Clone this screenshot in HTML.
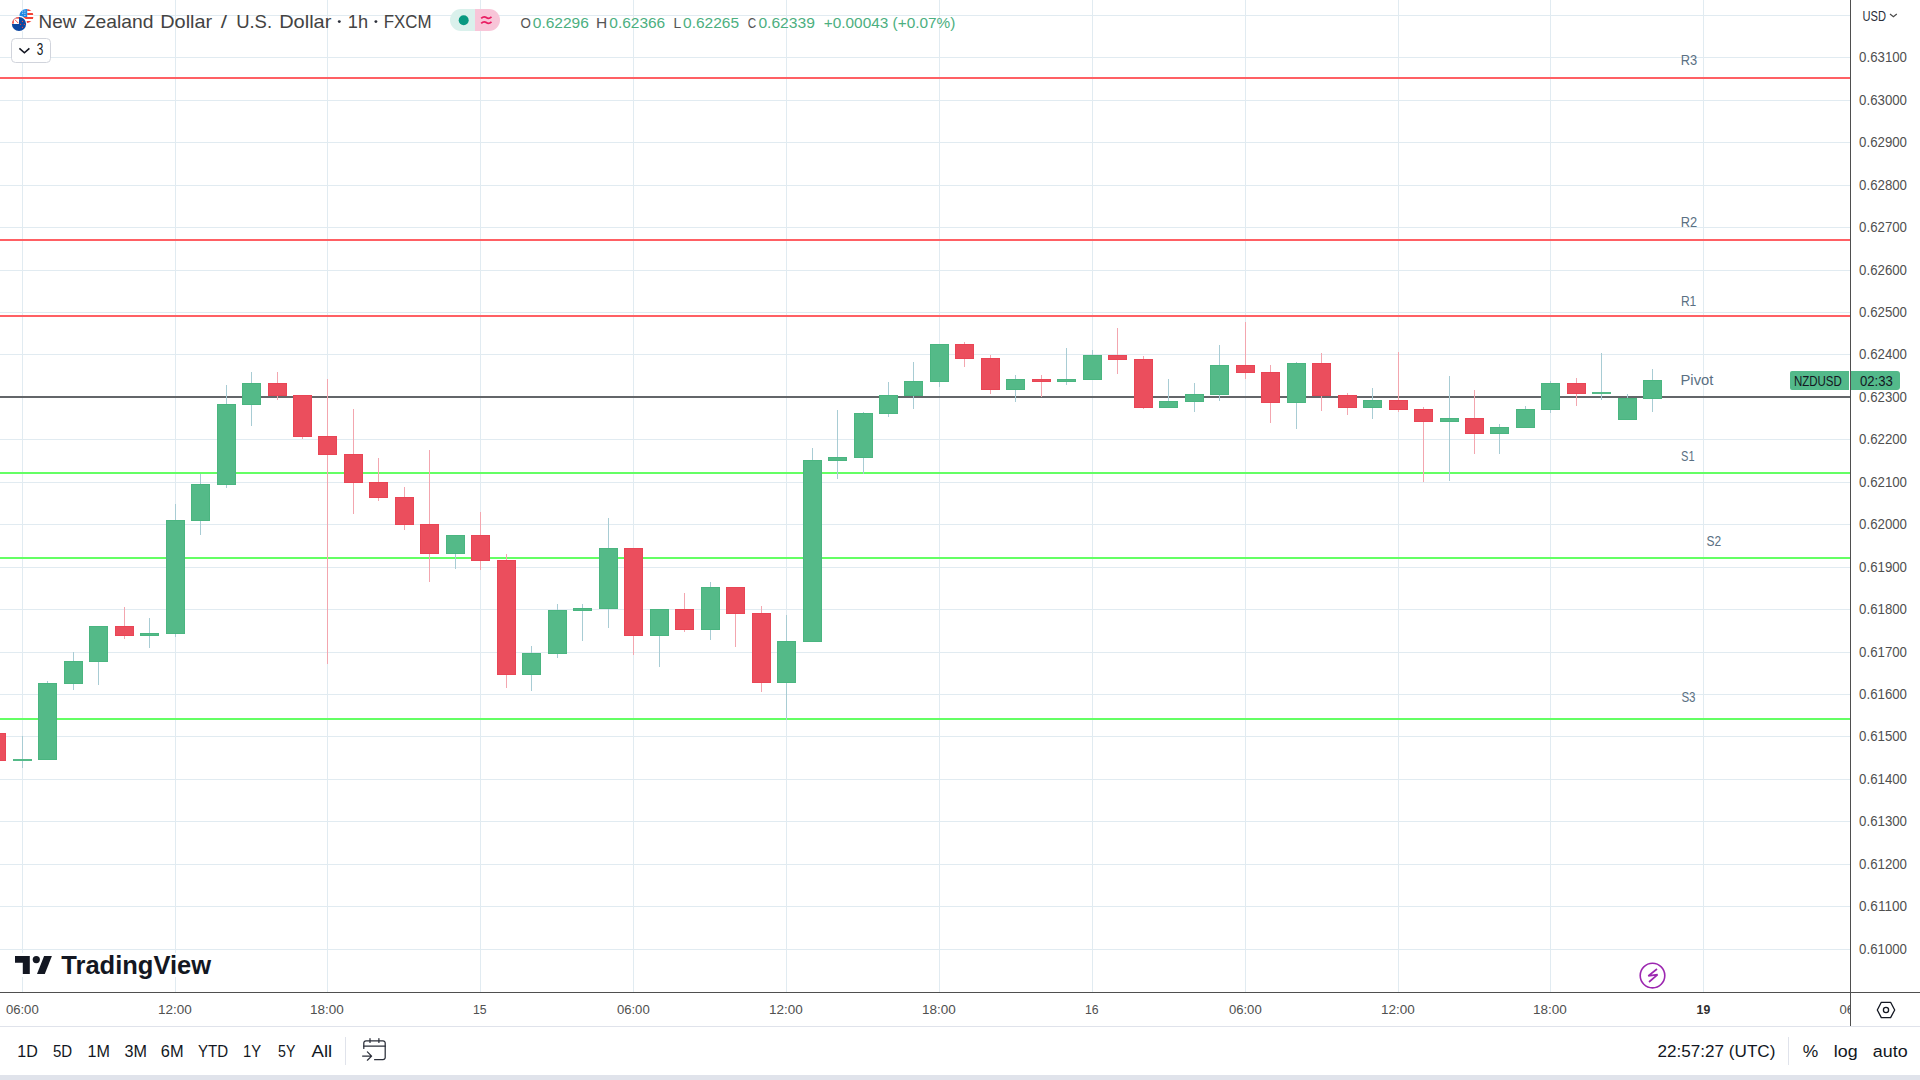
<!DOCTYPE html><html><head><meta charset="utf-8"><title>NZDUSD 1h chart</title>
<style>html,body{margin:0;padding:0;background:#fff;}body{width:1920px;height:1080px;position:relative;overflow:hidden;font-family:'Liberation Sans', Arial, sans-serif;}svg{position:absolute;left:0;top:0;}text{font-family:'Liberation Sans', Arial, sans-serif;white-space:pre;}</style></head><body>
<svg width="1920" height="1080" viewBox="0 0 1920 1080">
<rect x="0" y="0" width="1920" height="1080" fill="#ffffff"/>
<g shape-rendering="crispEdges" fill="#e1ebf1">
<rect x="0" y="15" width="1850" height="1"/>
<rect x="0" y="57" width="1850" height="1"/>
<rect x="0" y="100" width="1850" height="1"/>
<rect x="0" y="142" width="1850" height="1"/>
<rect x="0" y="185" width="1850" height="1"/>
<rect x="0" y="227" width="1850" height="1"/>
<rect x="0" y="270" width="1850" height="1"/>
<rect x="0" y="312" width="1850" height="1"/>
<rect x="0" y="354" width="1850" height="1"/>
<rect x="0" y="397" width="1850" height="1"/>
<rect x="0" y="439" width="1850" height="1"/>
<rect x="0" y="482" width="1850" height="1"/>
<rect x="0" y="524" width="1850" height="1"/>
<rect x="0" y="567" width="1850" height="1"/>
<rect x="0" y="609" width="1850" height="1"/>
<rect x="0" y="652" width="1850" height="1"/>
<rect x="0" y="694" width="1850" height="1"/>
<rect x="0" y="736" width="1850" height="1"/>
<rect x="0" y="779" width="1850" height="1"/>
<rect x="0" y="821" width="1850" height="1"/>
<rect x="0" y="864" width="1850" height="1"/>
<rect x="0" y="906" width="1850" height="1"/>
<rect x="0" y="949" width="1850" height="1"/>
<rect x="22" y="0" width="1" height="992"/>
<rect x="175" y="0" width="1" height="992"/>
<rect x="327" y="0" width="1" height="992"/>
<rect x="480" y="0" width="1" height="992"/>
<rect x="633" y="0" width="1" height="992"/>
<rect x="786" y="0" width="1" height="992"/>
<rect x="939" y="0" width="1" height="992"/>
<rect x="1092" y="0" width="1" height="992"/>
<rect x="1245" y="0" width="1" height="992"/>
<rect x="1398" y="0" width="1" height="992"/>
<rect x="1550" y="0" width="1" height="992"/>
<rect x="1703" y="0" width="1" height="992"/>
</g>
<g shape-rendering="crispEdges">
<rect x="0" y="77" width="1850" height="2" fill="#ff6064"/>
<rect x="0" y="239" width="1850" height="2" fill="#ff6064"/>
<rect x="0" y="315" width="1850" height="2" fill="#ff6064"/>
<rect x="0" y="396" width="1850" height="2" fill="#636669"/>
<rect x="0" y="472" width="1850" height="2" fill="#64ff64"/>
<rect x="0" y="557" width="1850" height="2" fill="#64ff64"/>
<rect x="0" y="718" width="1850" height="2" fill="#64ff64"/>
</g>
<g shape-rendering="crispEdges">
<rect x="-13" y="733" width="19" height="28" fill="#e94555"/>
<rect x="-12" y="734" width="17" height="26" fill="#eb4e5d"/>
<rect x="22" y="736" width="1" height="23" fill="#a8ccd4"/>
<rect x="22" y="761" width="1" height="7" fill="#a8ccd4"/>
<rect x="13" y="759" width="19" height="2" fill="#54ba88"/>
<rect x="47" y="681" width="1" height="2" fill="#a8ccd4"/>
<rect x="38" y="683" width="19" height="77" fill="#4ab580"/>
<rect x="39" y="684" width="17" height="75" fill="#54ba88"/>
<rect x="73" y="652" width="1" height="9" fill="#a8ccd4"/>
<rect x="73" y="684" width="1" height="6" fill="#a8ccd4"/>
<rect x="64" y="661" width="19" height="23" fill="#4ab580"/>
<rect x="65" y="662" width="17" height="21" fill="#54ba88"/>
<rect x="98" y="662" width="1" height="23" fill="#a8ccd4"/>
<rect x="89" y="626" width="19" height="36" fill="#4ab580"/>
<rect x="90" y="627" width="17" height="34" fill="#54ba88"/>
<rect x="124" y="607" width="1" height="19" fill="#f3a6af"/>
<rect x="124" y="636" width="1" height="3" fill="#f3a6af"/>
<rect x="115" y="626" width="19" height="10" fill="#e94555"/>
<rect x="116" y="627" width="17" height="8" fill="#eb4e5d"/>
<rect x="149" y="618" width="1" height="15" fill="#a8ccd4"/>
<rect x="149" y="636" width="1" height="12" fill="#a8ccd4"/>
<rect x="140" y="633" width="19" height="3" fill="#4ab580"/>
<rect x="141" y="634" width="17" height="1" fill="#54ba88"/>
<rect x="175" y="504" width="1" height="16" fill="#a8ccd4"/>
<rect x="175" y="634" width="1" height="3" fill="#a8ccd4"/>
<rect x="166" y="520" width="19" height="114" fill="#4ab580"/>
<rect x="167" y="521" width="17" height="112" fill="#54ba88"/>
<rect x="200" y="474" width="1" height="10" fill="#a8ccd4"/>
<rect x="200" y="521" width="1" height="14" fill="#a8ccd4"/>
<rect x="191" y="484" width="19" height="37" fill="#4ab580"/>
<rect x="192" y="485" width="17" height="35" fill="#54ba88"/>
<rect x="226" y="385" width="1" height="19" fill="#a8ccd4"/>
<rect x="226" y="485" width="1" height="3" fill="#a8ccd4"/>
<rect x="217" y="404" width="19" height="81" fill="#4ab580"/>
<rect x="218" y="405" width="17" height="79" fill="#54ba88"/>
<rect x="251" y="372" width="1" height="11" fill="#a8ccd4"/>
<rect x="251" y="405" width="1" height="21" fill="#a8ccd4"/>
<rect x="242" y="383" width="19" height="22" fill="#4ab580"/>
<rect x="243" y="384" width="17" height="20" fill="#54ba88"/>
<rect x="277" y="372" width="1" height="11" fill="#f3a6af"/>
<rect x="277" y="396" width="1" height="4" fill="#f3a6af"/>
<rect x="268" y="383" width="19" height="13" fill="#e94555"/>
<rect x="269" y="384" width="17" height="11" fill="#eb4e5d"/>
<rect x="302" y="437" width="1" height="2" fill="#f3a6af"/>
<rect x="293" y="395" width="19" height="42" fill="#e94555"/>
<rect x="294" y="396" width="17" height="40" fill="#eb4e5d"/>
<rect x="327" y="379" width="1" height="57" fill="#f3a6af"/>
<rect x="327" y="455" width="1" height="209" fill="#f3a6af"/>
<rect x="318" y="436" width="19" height="19" fill="#e94555"/>
<rect x="319" y="437" width="17" height="17" fill="#eb4e5d"/>
<rect x="353" y="409" width="1" height="45" fill="#f3a6af"/>
<rect x="353" y="483" width="1" height="31" fill="#f3a6af"/>
<rect x="344" y="454" width="19" height="29" fill="#e94555"/>
<rect x="345" y="455" width="17" height="27" fill="#eb4e5d"/>
<rect x="378" y="458" width="1" height="24" fill="#f3a6af"/>
<rect x="378" y="498" width="1" height="3" fill="#f3a6af"/>
<rect x="369" y="482" width="19" height="16" fill="#e94555"/>
<rect x="370" y="483" width="17" height="14" fill="#eb4e5d"/>
<rect x="404" y="487" width="1" height="10" fill="#f3a6af"/>
<rect x="404" y="525" width="1" height="5" fill="#f3a6af"/>
<rect x="395" y="497" width="19" height="28" fill="#e94555"/>
<rect x="396" y="498" width="17" height="26" fill="#eb4e5d"/>
<rect x="429" y="450" width="1" height="74" fill="#f3a6af"/>
<rect x="429" y="554" width="1" height="28" fill="#f3a6af"/>
<rect x="420" y="524" width="19" height="30" fill="#e94555"/>
<rect x="421" y="525" width="17" height="28" fill="#eb4e5d"/>
<rect x="455" y="554" width="1" height="15" fill="#a8ccd4"/>
<rect x="446" y="535" width="19" height="19" fill="#4ab580"/>
<rect x="447" y="536" width="17" height="17" fill="#54ba88"/>
<rect x="480" y="512" width="1" height="23" fill="#f3a6af"/>
<rect x="480" y="561" width="1" height="9" fill="#f3a6af"/>
<rect x="471" y="535" width="19" height="26" fill="#e94555"/>
<rect x="472" y="536" width="17" height="24" fill="#eb4e5d"/>
<rect x="506" y="554" width="1" height="6" fill="#f3a6af"/>
<rect x="506" y="675" width="1" height="13" fill="#f3a6af"/>
<rect x="497" y="560" width="19" height="115" fill="#e94555"/>
<rect x="498" y="561" width="17" height="113" fill="#eb4e5d"/>
<rect x="531" y="646" width="1" height="7" fill="#a8ccd4"/>
<rect x="531" y="675" width="1" height="16" fill="#a8ccd4"/>
<rect x="522" y="653" width="19" height="22" fill="#4ab580"/>
<rect x="523" y="654" width="17" height="20" fill="#54ba88"/>
<rect x="557" y="604" width="1" height="6" fill="#a8ccd4"/>
<rect x="557" y="654" width="1" height="4" fill="#a8ccd4"/>
<rect x="548" y="610" width="19" height="44" fill="#4ab580"/>
<rect x="549" y="611" width="17" height="42" fill="#54ba88"/>
<rect x="582" y="604" width="1" height="4" fill="#a8ccd4"/>
<rect x="582" y="611" width="1" height="30" fill="#a8ccd4"/>
<rect x="573" y="608" width="19" height="3" fill="#4ab580"/>
<rect x="574" y="609" width="17" height="1" fill="#54ba88"/>
<rect x="608" y="518" width="1" height="30" fill="#a8ccd4"/>
<rect x="608" y="609" width="1" height="19" fill="#a8ccd4"/>
<rect x="599" y="548" width="19" height="61" fill="#4ab580"/>
<rect x="600" y="549" width="17" height="59" fill="#54ba88"/>
<rect x="633" y="636" width="1" height="19" fill="#f3a6af"/>
<rect x="624" y="548" width="19" height="88" fill="#e94555"/>
<rect x="625" y="549" width="17" height="86" fill="#eb4e5d"/>
<rect x="659" y="636" width="1" height="31" fill="#a8ccd4"/>
<rect x="650" y="609" width="19" height="27" fill="#4ab580"/>
<rect x="651" y="610" width="17" height="25" fill="#54ba88"/>
<rect x="684" y="593" width="1" height="16" fill="#f3a6af"/>
<rect x="684" y="630" width="1" height="2" fill="#f3a6af"/>
<rect x="675" y="609" width="19" height="21" fill="#e94555"/>
<rect x="676" y="610" width="17" height="19" fill="#eb4e5d"/>
<rect x="710" y="582" width="1" height="5" fill="#a8ccd4"/>
<rect x="710" y="630" width="1" height="10" fill="#a8ccd4"/>
<rect x="701" y="587" width="19" height="43" fill="#4ab580"/>
<rect x="702" y="588" width="17" height="41" fill="#54ba88"/>
<rect x="735" y="614" width="1" height="33" fill="#f3a6af"/>
<rect x="726" y="587" width="19" height="27" fill="#e94555"/>
<rect x="727" y="588" width="17" height="25" fill="#eb4e5d"/>
<rect x="761" y="606" width="1" height="7" fill="#f3a6af"/>
<rect x="761" y="683" width="1" height="9" fill="#f3a6af"/>
<rect x="752" y="613" width="19" height="70" fill="#e94555"/>
<rect x="753" y="614" width="17" height="68" fill="#eb4e5d"/>
<rect x="786" y="615" width="1" height="26" fill="#a8ccd4"/>
<rect x="786" y="683" width="1" height="37" fill="#a8ccd4"/>
<rect x="777" y="641" width="19" height="42" fill="#4ab580"/>
<rect x="778" y="642" width="17" height="40" fill="#54ba88"/>
<rect x="812" y="448" width="1" height="12" fill="#a8ccd4"/>
<rect x="803" y="460" width="19" height="182" fill="#4ab580"/>
<rect x="804" y="461" width="17" height="180" fill="#54ba88"/>
<rect x="837" y="410" width="1" height="47" fill="#a8ccd4"/>
<rect x="837" y="461" width="1" height="18" fill="#a8ccd4"/>
<rect x="828" y="457" width="19" height="4" fill="#4ab580"/>
<rect x="829" y="458" width="17" height="2" fill="#54ba88"/>
<rect x="863" y="412" width="1" height="1" fill="#a8ccd4"/>
<rect x="863" y="458" width="1" height="16" fill="#a8ccd4"/>
<rect x="854" y="413" width="19" height="45" fill="#4ab580"/>
<rect x="855" y="414" width="17" height="43" fill="#54ba88"/>
<rect x="888" y="382" width="1" height="13" fill="#a8ccd4"/>
<rect x="888" y="414" width="1" height="3" fill="#a8ccd4"/>
<rect x="879" y="395" width="19" height="19" fill="#4ab580"/>
<rect x="880" y="396" width="17" height="17" fill="#54ba88"/>
<rect x="913" y="362" width="1" height="19" fill="#a8ccd4"/>
<rect x="913" y="396" width="1" height="13" fill="#a8ccd4"/>
<rect x="904" y="381" width="19" height="15" fill="#4ab580"/>
<rect x="905" y="382" width="17" height="13" fill="#54ba88"/>
<rect x="939" y="382" width="1" height="5" fill="#a8ccd4"/>
<rect x="930" y="344" width="19" height="38" fill="#4ab580"/>
<rect x="931" y="345" width="17" height="36" fill="#54ba88"/>
<rect x="964" y="342" width="1" height="2" fill="#f3a6af"/>
<rect x="964" y="359" width="1" height="8" fill="#f3a6af"/>
<rect x="955" y="344" width="19" height="15" fill="#e94555"/>
<rect x="956" y="345" width="17" height="13" fill="#eb4e5d"/>
<rect x="990" y="355" width="1" height="3" fill="#f3a6af"/>
<rect x="990" y="390" width="1" height="4" fill="#f3a6af"/>
<rect x="981" y="358" width="19" height="32" fill="#e94555"/>
<rect x="982" y="359" width="17" height="30" fill="#eb4e5d"/>
<rect x="1015" y="375" width="1" height="4" fill="#a8ccd4"/>
<rect x="1015" y="390" width="1" height="12" fill="#a8ccd4"/>
<rect x="1006" y="379" width="19" height="11" fill="#4ab580"/>
<rect x="1007" y="380" width="17" height="9" fill="#54ba88"/>
<rect x="1041" y="375" width="1" height="4" fill="#f3a6af"/>
<rect x="1041" y="382" width="1" height="15" fill="#f3a6af"/>
<rect x="1032" y="379" width="19" height="3" fill="#e94555"/>
<rect x="1033" y="380" width="17" height="1" fill="#eb4e5d"/>
<rect x="1066" y="348" width="1" height="31" fill="#a8ccd4"/>
<rect x="1066" y="382" width="1" height="3" fill="#a8ccd4"/>
<rect x="1057" y="379" width="19" height="3" fill="#4ab580"/>
<rect x="1058" y="380" width="17" height="1" fill="#54ba88"/>
<rect x="1092" y="350" width="1" height="5" fill="#a8ccd4"/>
<rect x="1083" y="355" width="19" height="25" fill="#4ab580"/>
<rect x="1084" y="356" width="17" height="23" fill="#54ba88"/>
<rect x="1117" y="328" width="1" height="27" fill="#f3a6af"/>
<rect x="1117" y="360" width="1" height="14" fill="#f3a6af"/>
<rect x="1108" y="355" width="19" height="5" fill="#e94555"/>
<rect x="1109" y="356" width="17" height="3" fill="#eb4e5d"/>
<rect x="1143" y="356" width="1" height="3" fill="#f3a6af"/>
<rect x="1143" y="408" width="1" height="1" fill="#f3a6af"/>
<rect x="1134" y="359" width="19" height="49" fill="#e94555"/>
<rect x="1135" y="360" width="17" height="47" fill="#eb4e5d"/>
<rect x="1168" y="379" width="1" height="22" fill="#a8ccd4"/>
<rect x="1159" y="401" width="19" height="7" fill="#4ab580"/>
<rect x="1160" y="402" width="17" height="5" fill="#54ba88"/>
<rect x="1194" y="383" width="1" height="11" fill="#a8ccd4"/>
<rect x="1194" y="402" width="1" height="10" fill="#a8ccd4"/>
<rect x="1185" y="394" width="19" height="8" fill="#4ab580"/>
<rect x="1186" y="395" width="17" height="6" fill="#54ba88"/>
<rect x="1219" y="345" width="1" height="20" fill="#a8ccd4"/>
<rect x="1219" y="395" width="1" height="6" fill="#a8ccd4"/>
<rect x="1210" y="365" width="19" height="30" fill="#4ab580"/>
<rect x="1211" y="366" width="17" height="28" fill="#54ba88"/>
<rect x="1245" y="322" width="1" height="43" fill="#f3a6af"/>
<rect x="1245" y="373" width="1" height="6" fill="#f3a6af"/>
<rect x="1236" y="365" width="19" height="8" fill="#e94555"/>
<rect x="1237" y="366" width="17" height="6" fill="#eb4e5d"/>
<rect x="1270" y="365" width="1" height="7" fill="#f3a6af"/>
<rect x="1270" y="403" width="1" height="20" fill="#f3a6af"/>
<rect x="1261" y="372" width="19" height="31" fill="#e94555"/>
<rect x="1262" y="373" width="17" height="29" fill="#eb4e5d"/>
<rect x="1296" y="362" width="1" height="1" fill="#a8ccd4"/>
<rect x="1296" y="403" width="1" height="26" fill="#a8ccd4"/>
<rect x="1287" y="363" width="19" height="40" fill="#4ab580"/>
<rect x="1288" y="364" width="17" height="38" fill="#54ba88"/>
<rect x="1321" y="353" width="1" height="10" fill="#f3a6af"/>
<rect x="1321" y="396" width="1" height="15" fill="#f3a6af"/>
<rect x="1312" y="363" width="19" height="33" fill="#e94555"/>
<rect x="1313" y="364" width="17" height="31" fill="#eb4e5d"/>
<rect x="1347" y="393" width="1" height="2" fill="#f3a6af"/>
<rect x="1347" y="408" width="1" height="7" fill="#f3a6af"/>
<rect x="1338" y="395" width="19" height="13" fill="#e94555"/>
<rect x="1339" y="396" width="17" height="11" fill="#eb4e5d"/>
<rect x="1372" y="388" width="1" height="12" fill="#a8ccd4"/>
<rect x="1372" y="408" width="1" height="11" fill="#a8ccd4"/>
<rect x="1363" y="400" width="19" height="8" fill="#4ab580"/>
<rect x="1364" y="401" width="17" height="6" fill="#54ba88"/>
<rect x="1398" y="352" width="1" height="48" fill="#f3a6af"/>
<rect x="1398" y="410" width="1" height="2" fill="#f3a6af"/>
<rect x="1389" y="400" width="19" height="10" fill="#e94555"/>
<rect x="1390" y="401" width="17" height="8" fill="#eb4e5d"/>
<rect x="1423" y="407" width="1" height="2" fill="#f3a6af"/>
<rect x="1423" y="422" width="1" height="60" fill="#f3a6af"/>
<rect x="1414" y="409" width="19" height="13" fill="#e94555"/>
<rect x="1415" y="410" width="17" height="11" fill="#eb4e5d"/>
<rect x="1449" y="376" width="1" height="42" fill="#a8ccd4"/>
<rect x="1449" y="422" width="1" height="59" fill="#a8ccd4"/>
<rect x="1440" y="418" width="19" height="4" fill="#4ab580"/>
<rect x="1441" y="419" width="17" height="2" fill="#54ba88"/>
<rect x="1474" y="390" width="1" height="28" fill="#f3a6af"/>
<rect x="1474" y="434" width="1" height="20" fill="#f3a6af"/>
<rect x="1465" y="418" width="19" height="16" fill="#e94555"/>
<rect x="1466" y="419" width="17" height="14" fill="#eb4e5d"/>
<rect x="1499" y="424" width="1" height="3" fill="#a8ccd4"/>
<rect x="1499" y="434" width="1" height="20" fill="#a8ccd4"/>
<rect x="1490" y="427" width="19" height="7" fill="#4ab580"/>
<rect x="1491" y="428" width="17" height="5" fill="#54ba88"/>
<rect x="1525" y="406" width="1" height="3" fill="#a8ccd4"/>
<rect x="1516" y="409" width="19" height="19" fill="#4ab580"/>
<rect x="1517" y="410" width="17" height="17" fill="#54ba88"/>
<rect x="1550" y="381" width="1" height="2" fill="#a8ccd4"/>
<rect x="1550" y="410" width="1" height="3" fill="#a8ccd4"/>
<rect x="1541" y="383" width="19" height="27" fill="#4ab580"/>
<rect x="1542" y="384" width="17" height="25" fill="#54ba88"/>
<rect x="1576" y="378" width="1" height="5" fill="#f3a6af"/>
<rect x="1576" y="394" width="1" height="12" fill="#f3a6af"/>
<rect x="1567" y="383" width="19" height="11" fill="#e94555"/>
<rect x="1568" y="384" width="17" height="9" fill="#eb4e5d"/>
<rect x="1601" y="353" width="1" height="39" fill="#a8ccd4"/>
<rect x="1601" y="394" width="1" height="6" fill="#a8ccd4"/>
<rect x="1592" y="392" width="19" height="2" fill="#54ba88"/>
<rect x="1627" y="394" width="1" height="4" fill="#a8ccd4"/>
<rect x="1618" y="398" width="19" height="22" fill="#4ab580"/>
<rect x="1619" y="399" width="17" height="20" fill="#54ba88"/>
<rect x="1652" y="369" width="1" height="11" fill="#a8ccd4"/>
<rect x="1652" y="399" width="1" height="13" fill="#a8ccd4"/>
<rect x="1643" y="380" width="19" height="19" fill="#4ab580"/>
<rect x="1644" y="381" width="17" height="17" fill="#54ba88"/>
</g>
<rect x="10" y="953" width="206" height="24" fill="#ffffff"/>
<g fill="#131722"><path d="M15 956H29.8V974H22.8V962.8H15Z"/><circle cx="36.3" cy="959.6" r="3.6"/><path d="M44.1 956H51.9L44.8 974H37Z"/></g>
<circle cx="1652.5" cy="975.6" r="12.3" fill="#ffffff" stroke="#9c27b0" stroke-width="1.6"/>
<path d="M1657 969 L1648.3 975.9 L1657.6 974.7 L1649 982" fill="none" stroke="#9c27b0" stroke-width="1.7" stroke-linejoin="miter" stroke-miterlimit="2"/>
<g shape-rendering="crispEdges">
<rect x="1851" y="0" width="69" height="992" fill="#ffffff"/>
<rect x="0" y="993" width="1920" height="33" fill="#ffffff"/>
<rect x="1850" y="0" width="1" height="1026" fill="#4f4f4f"/>
<rect x="0" y="992" width="1920" height="1" fill="#4f4f4f"/>
<rect x="0" y="1026" width="1920" height="1" fill="#e0e3eb"/>
<rect x="0" y="1027" width="1920" height="48" fill="#ffffff"/>
<rect x="0" y="1075" width="1920" height="5" fill="#e0e3eb"/>
<rect x="345" y="1037" width="1" height="28" fill="#e0e3eb"/>
<rect x="1788" y="1037" width="1" height="28" fill="#e0e3eb"/>
</g>
<path d="M1792 371H1849V390H1792A2 2 0 0 1 1790 388V373A2 2 0 0 1 1792 371Z" fill="#53b98a"/>
<path d="M1851 371H1897A3 3 0 0 1 1900 374V387A3 3 0 0 1 1897 390H1851Z" fill="#53b98a"/>
<circle cx="26.4" cy="16.1" r="7.1" fill="#ffffff"/>
<clipPath id="us"><circle cx="26.4" cy="16.1" r="7.1"/></clipPath>
<g clip-path="url(#us)"><rect x="19" y="8.5" width="15" height="15" fill="#ffffff"/><rect x="27.2" y="9" width="7" height="2" fill="#f44336"/><rect x="27.2" y="13" width="7" height="2" fill="#f44336"/><rect x="19" y="17" width="15" height="2" fill="#f44336"/><rect x="19" y="21" width="15" height="2.5" fill="#f44336"/><rect x="19" y="8.5" width="8.2" height="8.5" fill="#1e88e5"/><g fill="#ffffff" opacity="0.85"><rect x="22.2" y="10.6" width="1" height="1"/><rect x="24.4" y="10.6" width="1" height="1"/><rect x="22.2" y="12.8" width="1" height="1"/><rect x="24.4" y="12.8" width="1" height="1"/><rect x="24.4" y="15" width="1" height="1"/></g></g>
<circle cx="19" cy="24" r="8.2" fill="#ffffff"/>
<clipPath id="nz"><circle cx="19" cy="24" r="7.1"/></clipPath>
<g clip-path="url(#nz)"><rect x="11" y="16" width="16" height="16" fill="#0d47a1"/><rect x="11" y="16" width="8" height="8" fill="#ffffff"/><rect x="11" y="16" width="2.8" height="7.6" fill="#f44336"/><rect x="11" y="16" width="8" height="2.6" fill="#f44336"/><path d="M14.6 19.4 L18.4 23.2" stroke="#f44336" stroke-width="0.9"/><circle cx="22.5" cy="21.4" r="0.6" fill="#f44336"/><circle cx="20.6" cy="24.3" r="0.6" fill="#f44336"/><circle cx="24.4" cy="24.4" r="0.6" fill="#f44336"/><circle cx="22.5" cy="27.4" r="0.6" fill="#f44336"/></g>
<circle cx="339.3" cy="21.6" r="1.45" fill="#2a2e39"/><circle cx="375.9" cy="21.6" r="1.45" fill="#2a2e39"/>
<path d="M461 9H475V31H461A11 11 0 0 1 461 9Z" fill="#daf1ec"/>
<path d="M475 9H489A11 11 0 0 1 489 31H475Z" fill="#f8c5d8"/>
<circle cx="463.7" cy="20.2" r="5" fill="#089981"/>
<path d="M481.2 18.4 Q483.8 15.8 486.3 17.6 Q488.8 19.4 491.5 16.8 M481.2 23.4 Q483.8 20.8 486.3 22.6 Q488.8 24.4 491.5 21.8" fill="none" stroke="#e91e63" stroke-width="1.8"/>
<rect x="11.5" y="38.5" width="39" height="24" rx="4" fill="#ffffff" stroke="#d1d4dc" stroke-width="1"/>
<path d="M19.4 48.4 L24.4 52.8 L29.4 48.4" fill="none" stroke="#131722" stroke-width="1.6"/>
<path d="M1890 14 L1893.4 16.8 L1896.8 14" fill="none" stroke="#4a4a4a" stroke-width="1.2"/>
<path d="M1877.3 1010 L1881.3 1002.3 L1890.6 1002.3 L1894.7 1010 L1890.6 1017.6 L1881.3 1017.6 Z" fill="none" stroke="#131722" stroke-width="1.3" stroke-linejoin="round"/>
<circle cx="1886" cy="1010" r="2.6" fill="none" stroke="#131722" stroke-width="1.3"/>
<g fill="none" stroke="#2a2e39" stroke-width="1.25" stroke-linecap="round" stroke-linejoin="round"><path d="M363.8 1048.4 V1043 A2.2 2.2 0 0 1 366 1040.8 H383 A2.2 2.2 0 0 1 385.2 1043 V1057.5 A2.2 2.2 0 0 1 383 1059.7 H374.6"/><path d="M363.8 1046.2 H385.2"/><path d="M370 1038.6 V1042.4 M378.9 1038.6 V1042.4"/><path d="M362.6 1056.1 H371.4 M367.4 1051.9 L371.6 1056.1 L367.4 1060.2"/></g>
<clipPath id="tclip"><rect x="0" y="993" width="1850" height="33"/></clipPath>
<text x="38.61" y="27.70" font-size="19.00" fill="#434343" textLength="37.82" lengthAdjust="spacingAndGlyphs">New</text>
<text x="83.75" y="27.70" font-size="19.00" fill="#434343" textLength="69.73" lengthAdjust="spacingAndGlyphs">Zealand</text>
<text x="160.20" y="27.70" font-size="19.00" fill="#434343" textLength="51.99" lengthAdjust="spacingAndGlyphs">Dollar</text>
<text x="220.80" y="27.70" font-size="19.00" fill="#434343" textLength="6.25" lengthAdjust="spacingAndGlyphs">/</text>
<text x="236.13" y="27.70" font-size="19.00" fill="#434343" textLength="35.91" lengthAdjust="spacingAndGlyphs">U.S.</text>
<text x="279.15" y="27.70" font-size="19.00" fill="#434343" textLength="52.24" lengthAdjust="spacingAndGlyphs">Dollar</text>
<text x="347.79" y="27.70" font-size="19.00" fill="#434343" textLength="20.25" lengthAdjust="spacingAndGlyphs">1h</text>
<text x="383.71" y="27.70" font-size="19.00" fill="#434343" textLength="47.82" lengthAdjust="spacingAndGlyphs">FXCM</text>
<text x="520.60" y="27.70" font-size="14.70" fill="#555555" textLength="10.39" lengthAdjust="spacingAndGlyphs">O</text>
<text x="532.80" y="27.70" font-size="14.70" fill="#4caf80" textLength="56.08" lengthAdjust="spacingAndGlyphs">0.62296</text>
<text x="595.94" y="27.70" font-size="14.70" fill="#555555" textLength="11.20" lengthAdjust="spacingAndGlyphs">H</text>
<text x="609.30" y="27.70" font-size="14.70" fill="#4caf80" textLength="55.88" lengthAdjust="spacingAndGlyphs">0.62366</text>
<text x="673.46" y="27.70" font-size="14.70" fill="#555555" textLength="7.70" lengthAdjust="spacingAndGlyphs">L</text>
<text x="683.10" y="27.70" font-size="14.70" fill="#4caf80" textLength="55.98" lengthAdjust="spacingAndGlyphs">0.62265</text>
<text x="747.80" y="27.70" font-size="14.70" fill="#555555" textLength="8.39" lengthAdjust="spacingAndGlyphs">C</text>
<text x="758.40" y="27.70" font-size="14.70" fill="#4caf80" textLength="56.48" lengthAdjust="spacingAndGlyphs">0.62339</text>
<text x="823.75" y="27.70" font-size="14.70" fill="#4caf80" textLength="131.68" lengthAdjust="spacingAndGlyphs">+0.00043 (+0.07%)</text>
<text x="36.70" y="54.90" font-size="15.80" fill="#131722" textLength="6.54" lengthAdjust="spacingAndGlyphs">3</text>
<text x="1680.74" y="64.90" font-size="15.00" fill="#5a7083" textLength="16.45" lengthAdjust="spacingAndGlyphs">R3</text>
<text x="1680.84" y="226.90" font-size="15.00" fill="#5a7083" textLength="16.45" lengthAdjust="spacingAndGlyphs">R2</text>
<text x="1680.89" y="305.80" font-size="15.00" fill="#5a7083" textLength="15.48" lengthAdjust="spacingAndGlyphs">R1</text>
<text x="1680.51" y="384.90" font-size="15.00" fill="#5a7083" textLength="32.87" lengthAdjust="spacingAndGlyphs">Pivot</text>
<text x="1681.10" y="460.90" font-size="15.00" fill="#5a7083" textLength="13.55" lengthAdjust="spacingAndGlyphs">S1</text>
<text x="1706.40" y="545.80" font-size="15.00" fill="#5a7083" textLength="14.67" lengthAdjust="spacingAndGlyphs">S2</text>
<text x="1681.40" y="701.70" font-size="15.00" fill="#5a7083" textLength="14.16" lengthAdjust="spacingAndGlyphs">S3</text>
<text x="1859.10" y="62.00" font-size="14.00" fill="#505050" textLength="47.90" lengthAdjust="spacingAndGlyphs">0.63100</text>
<text x="1859.10" y="105.00" font-size="14.00" fill="#505050" textLength="47.90" lengthAdjust="spacingAndGlyphs">0.63000</text>
<text x="1859.10" y="147.00" font-size="14.00" fill="#505050" textLength="47.90" lengthAdjust="spacingAndGlyphs">0.62900</text>
<text x="1859.10" y="190.00" font-size="14.00" fill="#505050" textLength="47.90" lengthAdjust="spacingAndGlyphs">0.62800</text>
<text x="1859.10" y="232.00" font-size="14.00" fill="#505050" textLength="47.90" lengthAdjust="spacingAndGlyphs">0.62700</text>
<text x="1859.10" y="275.00" font-size="14.00" fill="#505050" textLength="47.90" lengthAdjust="spacingAndGlyphs">0.62600</text>
<text x="1859.10" y="317.00" font-size="14.00" fill="#505050" textLength="47.90" lengthAdjust="spacingAndGlyphs">0.62500</text>
<text x="1859.10" y="359.00" font-size="14.00" fill="#505050" textLength="47.90" lengthAdjust="spacingAndGlyphs">0.62400</text>
<text x="1859.10" y="402.00" font-size="14.00" fill="#505050" textLength="47.90" lengthAdjust="spacingAndGlyphs">0.62300</text>
<text x="1859.10" y="444.00" font-size="14.00" fill="#505050" textLength="47.90" lengthAdjust="spacingAndGlyphs">0.62200</text>
<text x="1859.10" y="487.00" font-size="14.00" fill="#505050" textLength="47.90" lengthAdjust="spacingAndGlyphs">0.62100</text>
<text x="1859.10" y="529.00" font-size="14.00" fill="#505050" textLength="47.90" lengthAdjust="spacingAndGlyphs">0.62000</text>
<text x="1859.10" y="572.00" font-size="14.00" fill="#505050" textLength="47.90" lengthAdjust="spacingAndGlyphs">0.61900</text>
<text x="1859.10" y="614.00" font-size="14.00" fill="#505050" textLength="47.90" lengthAdjust="spacingAndGlyphs">0.61800</text>
<text x="1859.10" y="657.00" font-size="14.00" fill="#505050" textLength="47.90" lengthAdjust="spacingAndGlyphs">0.61700</text>
<text x="1859.10" y="699.00" font-size="14.00" fill="#505050" textLength="47.90" lengthAdjust="spacingAndGlyphs">0.61600</text>
<text x="1859.10" y="741.00" font-size="14.00" fill="#505050" textLength="47.90" lengthAdjust="spacingAndGlyphs">0.61500</text>
<text x="1859.10" y="784.00" font-size="14.00" fill="#505050" textLength="47.90" lengthAdjust="spacingAndGlyphs">0.61400</text>
<text x="1859.10" y="826.00" font-size="14.00" fill="#505050" textLength="47.90" lengthAdjust="spacingAndGlyphs">0.61300</text>
<text x="1859.10" y="869.00" font-size="14.00" fill="#505050" textLength="47.90" lengthAdjust="spacingAndGlyphs">0.61200</text>
<text x="1859.10" y="911.00" font-size="14.00" fill="#505050" textLength="47.89" lengthAdjust="spacingAndGlyphs">0.61100</text>
<text x="1859.10" y="954.00" font-size="14.00" fill="#505050" textLength="47.90" lengthAdjust="spacingAndGlyphs">0.61000</text>
<text x="1862.49" y="20.90" font-size="13.80" fill="#2a2e39" textLength="23.48" lengthAdjust="spacingAndGlyphs">USD</text>
<text x="1793.92" y="385.90" font-size="13.80" fill="#131722" textLength="47.95" lengthAdjust="spacingAndGlyphs">NZDUSD</text>
<text x="1860.00" y="385.90" font-size="13.80" fill="#131722" textLength="32.89" lengthAdjust="spacingAndGlyphs">02:33</text>
<text x="5.90" y="1013.80" font-size="13.70" fill="#505050" textLength="32.83" lengthAdjust="spacingAndGlyphs">06:00</text>
<text x="157.91" y="1013.80" font-size="13.70" fill="#505050" textLength="33.80" lengthAdjust="spacingAndGlyphs">12:00</text>
<text x="309.91" y="1013.80" font-size="13.70" fill="#505050" textLength="33.80" lengthAdjust="spacingAndGlyphs">18:00</text>
<text x="473.05" y="1013.80" font-size="13.70" fill="#505050" textLength="13.65" lengthAdjust="spacingAndGlyphs">15</text>
<text x="616.90" y="1013.80" font-size="13.70" fill="#505050" textLength="32.83" lengthAdjust="spacingAndGlyphs">06:00</text>
<text x="768.91" y="1013.80" font-size="13.70" fill="#505050" textLength="33.80" lengthAdjust="spacingAndGlyphs">12:00</text>
<text x="921.91" y="1013.80" font-size="13.70" fill="#505050" textLength="33.80" lengthAdjust="spacingAndGlyphs">18:00</text>
<text x="1085.05" y="1013.80" font-size="13.70" fill="#505050" textLength="13.65" lengthAdjust="spacingAndGlyphs">16</text>
<text x="1228.90" y="1013.80" font-size="13.70" fill="#505050" textLength="32.83" lengthAdjust="spacingAndGlyphs">06:00</text>
<text x="1380.91" y="1013.80" font-size="13.70" fill="#505050" textLength="33.80" lengthAdjust="spacingAndGlyphs">12:00</text>
<text x="1532.91" y="1013.80" font-size="13.70" fill="#505050" textLength="33.80" lengthAdjust="spacingAndGlyphs">18:00</text>
<text x="1696.60" y="1013.80" font-size="13.70" fill="#2f2f2f" font-weight="bold" textLength="13.65" lengthAdjust="spacingAndGlyphs">19</text>
<text x="1839.50" y="1013.80" font-size="13.70" fill="#505050" clip-path="url(#tclip)" textLength="32.83" lengthAdjust="spacingAndGlyphs">06:00</text>
<text x="61.30" y="974.00" font-size="25.00" fill="#131722" font-weight="bold" textLength="149.83" lengthAdjust="spacingAndGlyphs">TradingView</text>
<text x="17.37" y="1057.00" font-size="17.20" fill="#131722" textLength="20.52" lengthAdjust="spacingAndGlyphs">1D</text>
<text x="53.00" y="1057.00" font-size="17.20" fill="#131722" textLength="19.26" lengthAdjust="spacingAndGlyphs">5D</text>
<text x="87.56" y="1057.00" font-size="17.20" fill="#131722" textLength="22.43" lengthAdjust="spacingAndGlyphs">1M</text>
<text x="124.60" y="1057.00" font-size="17.20" fill="#131722" textLength="22.44" lengthAdjust="spacingAndGlyphs">3M</text>
<text x="160.80" y="1057.00" font-size="17.20" fill="#131722" textLength="22.76" lengthAdjust="spacingAndGlyphs">6M</text>
<text x="197.90" y="1057.00" font-size="17.20" fill="#131722" textLength="30.16" lengthAdjust="spacingAndGlyphs">YTD</text>
<text x="242.89" y="1057.00" font-size="17.20" fill="#131722" textLength="18.15" lengthAdjust="spacingAndGlyphs">1Y</text>
<text x="278.00" y="1057.00" font-size="17.20" fill="#131722" textLength="17.36" lengthAdjust="spacingAndGlyphs">5Y</text>
<text x="311.50" y="1057.00" font-size="17.20" fill="#131722" textLength="20.63" lengthAdjust="spacingAndGlyphs">All</text>
<text x="1657.50" y="1057.00" font-size="17.20" fill="#131722" textLength="117.92" lengthAdjust="spacingAndGlyphs">22:57:27 (UTC)</text>
<text x="1802.80" y="1057.00" font-size="17.20" fill="#131722" textLength="15.49" lengthAdjust="spacingAndGlyphs">%</text>
<text x="1833.76" y="1057.00" font-size="17.20" fill="#131722" textLength="23.82" lengthAdjust="spacingAndGlyphs">log</text>
<text x="1872.80" y="1057.00" font-size="17.20" fill="#131722" textLength="34.78" lengthAdjust="spacingAndGlyphs">auto</text>
</svg></body></html>
